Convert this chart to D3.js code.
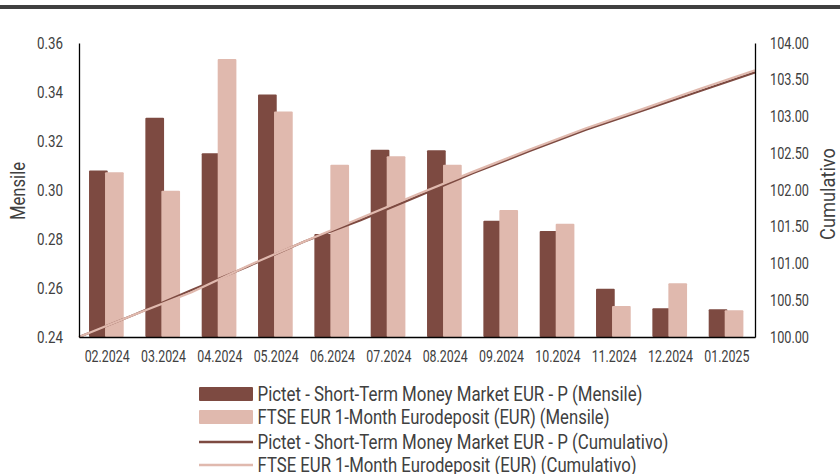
<!DOCTYPE html>
<html><head><meta charset="utf-8">
<script src="https://cdn.jsdelivr.net/npm/d3@7"></script>
<style>
html,body{margin:0;padding:0;background:#fff;}
svg{display:block;font-family:Roboto,"Noto Sans",sans-serif;}
</style></head>
<body><svg id="chart" width="840" height="474"></svg>
<script>
const months = ["02.2024","03.2024","04.2024","05.2024","06.2024","07.2024","08.2024","09.2024","10.2024","11.2024","12.2024","01.2025"];
const fundMonthly = [0.308,0.3295,0.315,0.339,0.282,0.3164,0.3162,0.2875,0.2833,0.2597,0.2517,0.2513];
const benchMonthly = [0.3072,0.2997,0.3535,0.332,0.3103,0.3138,0.3103,0.2918,0.2862,0.2527,0.2619,0.2509];
const cumPoints = ["31.01.2024","29.02.2024","31.03.2024","30.04.2024","31.05.2024","30.06.2024","31.07.2024","31.08.2024","30.09.2024","31.10.2024","30.11.2024","31.12.2024","31.01.2025"];
const fundCum = [100,100.31,100.64,100.96,101.30,101.59,101.91,102.23,102.53,102.82,103.08,103.34,103.60];
const benchCum = [100,100.31,100.61,100.97,101.30,101.62,101.94,102.25,102.55,102.84,103.10,103.37,103.63];
const leftTicks = [0.24,0.26,0.28,0.30,0.32,0.34,0.36];
const rightTicks = [100,100.5,101,101.5,102,102.5,103,103.5,104];
const seriesNames = [
  "Pictet - Short-Term Money Market EUR - P (Mensile)",
  "FTSE EUR 1-Month Eurodeposit (EUR) (Mensile)",
  "Pictet - Short-Term Money Market EUR - P (Cumulativo)",
  "FTSE EUR 1-Month Eurodeposit (EUR) (Cumulativo)"
];
const DARK = "#7d4a41", LIGHT = "#e0b9ae", TXT = "#404040";
const FONT = "Roboto";

const svg = d3.select("#chart");
const L = 79, R = 755, T = 43, B = 337;

svg.append("rect").attr("x",0).attr("y",5).attr("width",840).attr("height",4).attr("fill","#404040");

const x = d3.scaleBand().domain(months).range([L,R]).paddingInner(0).paddingOuter(0);
const yL = d3.scaleLinear().domain([0.24,0.36]).range([B,T]);
const yR = d3.scaleLinear().domain([100,104]).range([B,T]);
const xc = d3.scalePoint().domain(cumPoints).range([L,R]);

const step = x.bandwidth();
const barW = step*0.332;
const off1 = step*0.178, off2 = step*0.462;

// bars
const g = svg.append("g");
g.selectAll(".b1").data(months).join("rect")
  .attr("x",(d)=>x(d)+off1).attr("width",barW)
  .attr("y",(d,i)=>yL(fundMonthly[i])).attr("height",(d,i)=>B-yL(fundMonthly[i]))
  .attr("fill",DARK).attr("rx",1);
g.selectAll(".b2").data(months).join("rect")
  .attr("x",(d)=>x(d)+off2).attr("width",barW)
  .attr("y",(d,i)=>yL(benchMonthly[i])).attr("height",(d,i)=>B-yL(benchMonthly[i]))
  .attr("fill",LIGHT).attr("rx",1);

// lines
const lf = d3.line().x((d,i)=>xc(cumPoints[i])).y(d=>yR(d));
svg.append("path").attr("d",lf(fundCum)).attr("fill","none").attr("stroke",DARK).attr("stroke-width",2.2);
svg.append("path").attr("d",lf(benchCum)).attr("fill","none").attr("stroke",LIGHT).attr("stroke-width",2.2);

// axes
function styleAxis(a, width){
  a.attr("font-family",FONT);
  a.select(".domain").attr("stroke","#000").attr("stroke-width",1.3);
  a.selectAll("text").attr("fill",TXT).attr("font-family",FONT).attr("font-size",16)
    .attr("textLength",width).attr("lengthAdjust","spacingAndGlyphs");
}
const axL = svg.append("g").attr("transform",`translate(${L},0)`)
  .call(d3.axisLeft(yL).tickValues(leftTicks).tickFormat(d3.format(".2f")).tickSize(0).tickPadding(16));
styleAxis(axL, 26);
const axR = svg.append("g").attr("transform",`translate(${R},0)`)
  .call(d3.axisRight(yR).tickValues(rightTicks).tickFormat(d3.format(".2f")).tickSize(0).tickPadding(15));
styleAxis(axR, 39);
const axB = svg.append("g").attr("transform",`translate(0,${B})`)
  .call(d3.axisBottom(x).tickSize(0).tickPadding(14));
styleAxis(axB, 45);

// axis titles
svg.append("text").attr("transform","translate(25,191) rotate(-90)").attr("text-anchor","middle")
  .attr("fill",TXT).attr("font-size",20).attr("textLength",58).attr("lengthAdjust","spacingAndGlyphs").text("Mensile");
svg.append("text").attr("transform","translate(835,194) rotate(-90)").attr("text-anchor","middle")
  .attr("fill",TXT).attr("font-size",20).attr("textLength",92).attr("lengthAdjust","spacingAndGlyphs").text("Cumulativo");

// legend
const lg = svg.append("g");
const rowsY = [394,417,442,465];
const legendW = [385,352,411,379];
seriesNames.forEach((name,i)=>{
  const yy = rowsY[i];
  if(i<2){
    lg.append("rect").attr("x",199).attr("y",yy-7).attr("width",54).attr("height",14)
      .attr("fill",i===0?DARK:LIGHT).attr("rx",1);
  } else {
    lg.append("line").attr("x1",199).attr("x2",253).attr("y1",yy).attr("y2",yy)
      .attr("stroke",i===2?DARK:LIGHT).attr("stroke-width",2.5);
  }
  lg.append("text").attr("x",257.5).attr("y",yy+7).attr("fill",TXT).attr("font-size",20)
    .attr("textLength",legendW[i]).attr("lengthAdjust","spacingAndGlyphs").text(name);
});
</script></body></html>
